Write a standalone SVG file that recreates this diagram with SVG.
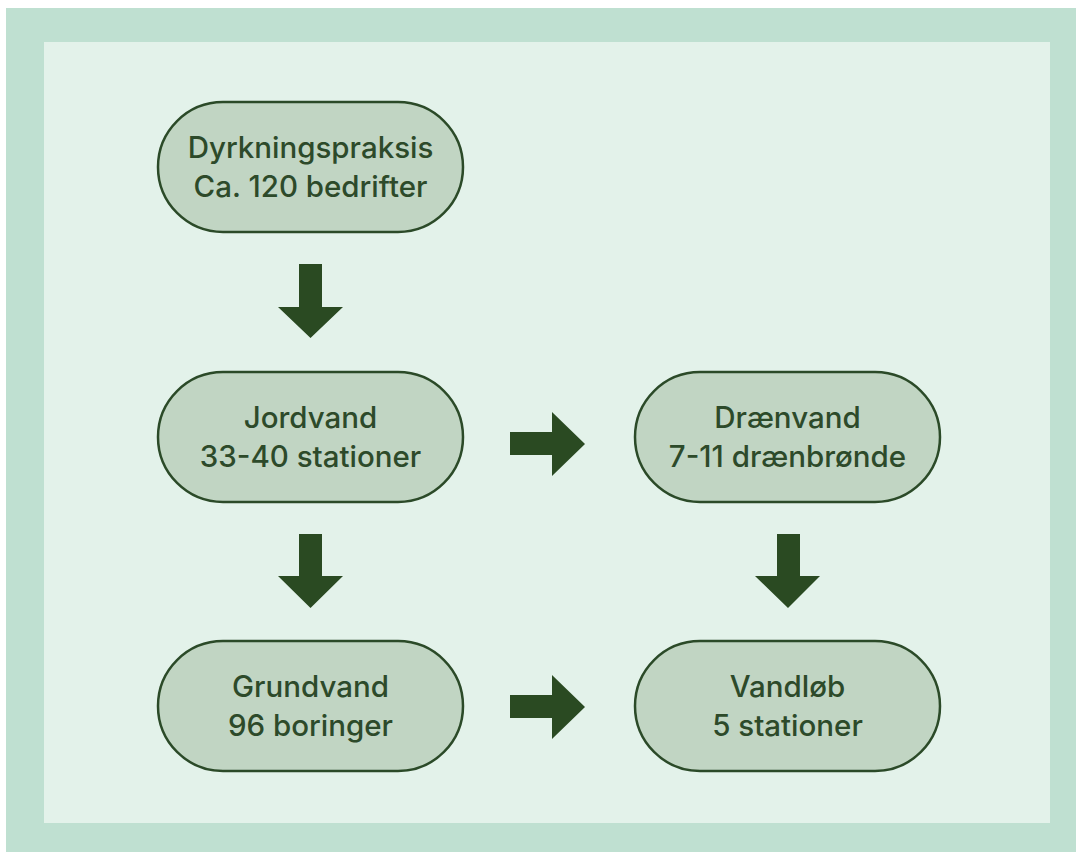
<svg xmlns="http://www.w3.org/2000/svg" width="1076" height="852" viewBox="0 0 1076 852">
  <style>
    .node rect { fill: #c1d5c3; stroke: #2b4a28; stroke-width: 2.5; }
    .node text { font-family: "Inter", "Liberation Sans", sans-serif; font-size: 29.5px; font-weight: 500; fill: #2d4a2a; text-anchor: middle; }
    .arrow { fill: #2a4a22; }
  </style>
  <!-- backgrounds -->
  <rect x="0" y="0" width="1076" height="852" fill="#ffffff"/>
  <rect x="6" y="8" width="1070" height="844" fill="#bfe0d1"/>
  <rect x="44" y="42" width="1006" height="781" fill="#e3f2ea"/>

  <g id="node-dyrkning" class="node">
    <rect x="158" y="102" width="305" height="130" rx="65"/>
    <text x="310.5" y="158">Dyrkningspraksis</text>
    <text x="310.5" y="197">Ca. 120 bedrifter</text>
  </g>
  <g id="node-jordvand" class="node">
    <rect x="158" y="372" width="305" height="130" rx="65"/>
    <text x="310.5" y="428">Jordvand</text>
    <text x="310.5" y="467">33-40 stationer</text>
  </g>
  <g id="node-draenvand" class="node">
    <rect x="635" y="372" width="305" height="130" rx="65"/>
    <text x="787.5" y="428">Drænvand</text>
    <text x="787.5" y="467">7-11 drænbrønde</text>
  </g>
  <g id="node-grundvand" class="node">
    <rect x="158" y="641" width="305" height="130" rx="65"/>
    <text x="310.5" y="697">Grundvand</text>
    <text x="310.5" y="736">96 boringer</text>
  </g>
  <g id="node-vandloeb" class="node">
    <rect x="635" y="641" width="305" height="130" rx="65"/>
    <text x="787.5" y="697">Vandløb</text>
    <text x="787.5" y="736">5 stationer</text>
  </g>

  <g id="connectors" class="arrow">
    <!-- down: Dyrkningspraksis -> Jordvand -->
    <polygon points="299,264 322,264 322,307 343,307 310.5,338 278,307 299,307"/>
    <!-- down: Jordvand -> Grundvand -->
    <polygon points="299,534 322,534 322,576 343,576 310.5,608 278,576 299,576"/>
    <!-- down: Drænvand -> Vandløb -->
    <polygon points="777,534 800,534 800,576 820,576 788,608 755,576 777,576"/>
    <!-- right: Jordvand -> Drænvand -->
    <polygon points="510,432 552,432 552,412 585,444 552,476 552,455 510,455"/>
    <!-- right: Grundvand -> Vandløb -->
    <polygon points="510,695 552,695 552,675 585,707 552,739 552,718 510,718"/>
  </g>
</svg>
